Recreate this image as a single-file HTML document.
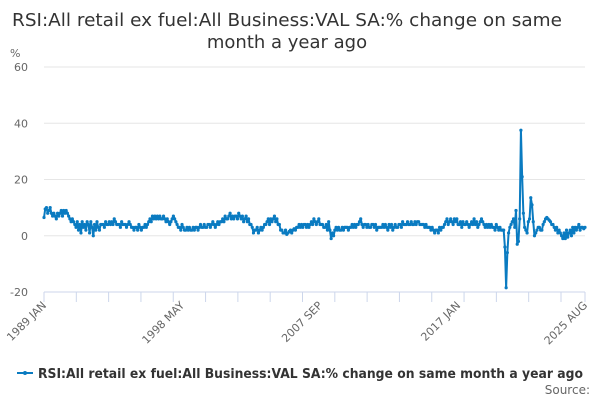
<!DOCTYPE html>
<html><head><meta charset="utf-8"><style>
body{margin:0;background:#fff;font-family:"DejaVu Sans","Liberation Sans",sans-serif}
svg text{font-family:"DejaVu Sans","Liberation Sans",sans-serif}
</style></head><body>
<svg id="chart" width="600" height="400" xmlns="http://www.w3.org/2000/svg">
<text x="287" y="26" text-anchor="middle" font-size="18" fill="#333" textLength="550" lengthAdjust="spacingAndGlyphs">RSI:All retail ex fuel:All Business:VAL SA:% change on same</text>
<text x="287" y="48" text-anchor="middle" font-size="18" fill="#333">month a year ago</text>
<text x="10" y="57" font-size="11" fill="#666">%</text>
<g id="grid"></g>
<g id="yl"></g>
<g id="xa"></g>
<g id="series"></g>
<g>
<line x1="17" y1="373" x2="33" y2="373" stroke="#0a7bc1" stroke-width="2"/>
<circle cx="25" cy="373" r="2" fill="#0a7bc1"/>
<text x="38" y="378" font-size="13" font-weight="bold" fill="#333" textLength="545" lengthAdjust="spacingAndGlyphs">RSI:All retail ex fuel:All Business:VAL SA:% change on same month a year ago</text>
</g>
<text x="590" y="394" text-anchor="end" font-size="12" fill="#666">Source:</text>
</svg>
<script>
const startYear = 1989;
const yTicks = [60, 40, 20, 0, -20];
const xTickLabels = ["1989 JAN", "1998 MAY", "2007 SEP", "2017 JAN", "2025 AUG"];
const xTickIndex = [0, 112, 224, 336, 439];
const values = [
6.5,9.5,10,8,9,10,8,7,8,7,6,8,
7,8,9,7,9,8,9,8,7,6,5,6,
5,4,3,5,2,4,1,5,3,4,2,5,
4,1,5,3,0,4,2,5,3,2,4,4,
4,3,5,4,4,5,4,5,4,6,5,4,
4,4,3,5,4,4,4,3,4,5,4,3,
3,2,3,3,2,4,3,2,3,3,4,3,
4,5,6,5,7,6,7,6,7,6,7,6,
6,7,6,5,6,5,4,5,6,7,6,5,
4,3,3,2,4,3,2,2,3,2,3,2,
2,3,2,3,3,2,3,4,3,3,4,3,
3,4,4,3,4,5,4,3,4,5,4,5,
5,6,5,7,6,6,7,8,6,7,6,7,
7,6,8,7,6,7,5,6,7,5,6,4,
4,3,1,2,2,3,1,2,3,2,3,4,
4,5,6,4,6,5,6,7,5,6,4,4,
2,2,1,1,2,0.5,1,1.5,2,1,2,2.5,
2,3,3,4,3,4,3,4,4,3,4,3,
4,5,4,6,5,4,5,6,4,4,4,3,
3,4,2,5,2,-1,1,0,2,3,2,3,
2,2,3,2,3,3,3,2,3,3,4,3,
4,3,4,4,5,6,4,3,4,4,3,4,
3,3,4,4,3,4,2,3,3,3,3,4,
3,4,3,2,4,3,4,2,3,4,3,3,
4,4,3,5,4,4,4,5,4,4,5,4,
4,5,4,5,5,4,4,4,4,3,4,3,
3,3,2,3,2,1,2,2,1,3,2,3,
3,4,5,6,4,5,6,5,4,6,5,6,
4,4,5,3,5,4,4,5,4,3,4,5,
4,6,4,5,3,4,5,6,5,4,3,4,
3,4,3,4,3,3,2,4,3,2,3,2,
2,2,-4,-18.5,-6,1,3,4,5,6,3,9,
-3,-2,6,37.5,21,8,3,2,1,5,6,13.5,
11,5,0,1,2,3,3,2,2,4,5,6,
6.5,6,5.5,5,4,4,3,2,3,1,2,1,
0,-1,1,-1,2,-0.5,1,2,0,3,1,3,
2,3,4,2,3,3,2.5,3
];
const NS="http://www.w3.org/2000/svg";
const X0=44,X1=585,Y0=292,Y1=67,VMIN=-20,VMAX=60;
const xs=i=>X0+(X1-X0)*i/(values.length-1);
const ys=v=>Y0-(v-VMIN)*(Y0-Y1)/(VMAX-VMIN);
function mk(t,a,p){const e=document.createElementNS(NS,t);for(const k in a)e.setAttribute(k,a[k]);p.appendChild(e);return e;}
const grid=document.getElementById('grid'),yl=document.getElementById('yl'),xa=document.getElementById('xa'),ser=document.getElementById('series');
yTicks.forEach(v=>{
 if(v!==VMIN){const l=mk('line',{x1:X0,x2:X1,y1:ys(v),y2:ys(v),stroke:'#e6e6e6','stroke-width':1},grid);
 
 }
 const t=mk('text',{x:28,y:ys(v)+4,'text-anchor':'end','font-size':11,fill:'#666'},yl);t.textContent=v;
 
 
});
mk('line',{x1:X0,x2:X1,y1:Y0,y2:Y0,stroke:'#ccd6eb','stroke-width':1},xa);
for(let k=0;k<=16;k++){const x=X0+(X1-X0-24)*k/16;mk('line',{x1:x,x2:x,y1:Y0,y2:Y0+10,stroke:'#ccd6eb'},xa);}
mk('line',{x1:X1,x2:X1,y1:Y0,y2:Y0+10,stroke:'#ccd6eb'},xa);
xTickLabels.forEach((s,j)=>{const x=xs(xTickIndex[j]);
 const t=mk('text',{x:x+3,y:Y0+14,'text-anchor':'end','font-size':11,fill:'#666',transform:`rotate(-45 ${x+3} ${Y0+14})`},xa);t.textContent=s;
 
 
});
const pts=values.map((v,i)=>xs(i).toFixed(2)+','+ys(v).toFixed(2)).join(' ');
const pl=mk('polyline',{points:pts,fill:'none',stroke:'#0a7bc1','stroke-width':2,'stroke-linejoin':'round'},ser);


values.forEach((v,i)=>{const c=mk('circle',{cx:xs(i),cy:ys(v),r:1.6,fill:'#0a7bc1'},ser);
 
 
});
</script>
</body></html>
